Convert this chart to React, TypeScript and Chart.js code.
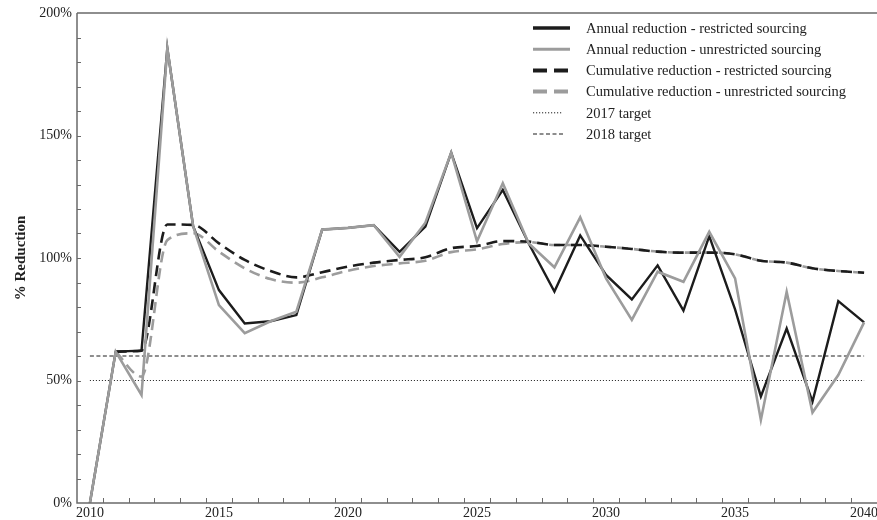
import { useEffect, useRef } from 'react';
import { Chart, registerables } from 'chart.js';

Chart.register(...registerables);

const YEARS = [
  2010, 2011, 2012, 2013, 2014, 2015, 2016, 2017, 2018, 2019,
  2020, 2021, 2022, 2023, 2024, 2025, 2026, 2027, 2028, 2029,
  2030, 2031, 2032, 2033, 2034, 2035, 2036, 2037, 2038, 2039, 2040,
];

const ANNUAL_RESTRICTED = [
  0, 61.8, 62.2, 185.6, 113, 86.9, 73.3, 74.2, 76.7, 111.6,
  112.3, 113.4, 102.5, 112.8, 143, 112.2, 127.8, 106, 86.3, 109.2,
  93.1, 83.1, 97, 78.5, 108.9, 79, 43.5, 71.2, 41.4, 82.4, 73.7,
];

const ANNUAL_UNRESTRICTED = [
  0, 61.8, 44.1, 185.6, 113, 80.8, 69.3, 74.2, 78.1, 111.6,
  112.3, 113.4, 100.5, 114.4, 143, 106.8, 130.5, 106, 96.2, 116.6,
  91.7, 74.7, 94.4, 90.3, 110.7, 91.7, 33.9, 86.2, 36.9, 52.2, 73.7,
];

const CUMULATIVE_RESTRICTED = [
  null, 61.8, 62.2, 113.7, 113.5, 106, 99.2, 94.7, 92.1, 94.2,
  96.5, 98.1, 99.2, 100.3, 104, 104.9, 106.9, 106.7, 105.3, 105.3,
  104.6, 103.7, 102.6, 102.2, 102.2, 101.5, 98.9, 98.1, 95.8, 94.7, 94,
];

const CUMULATIVE_UNRESTRICTED = [
  null, 61.8, 51.6, 107.3, 110.1, 102.6, 95.8, 91.4, 89.9, 92.1,
  94.8, 96.7, 97.8, 98.9, 102.4, 103.5, 105.7, 106.5, 105.3, 105.3,
  104.6, 103.7, 102.6, 102.2, 102.2, 101.5, 98.9, 98.1, 95.8, 94.7, 94,
];

const TARGET_2017 = 50;
const TARGET_2018 = 60;

const Y_MIN = 0;
const Y_MAX = 200;
const Y_MINOR_STEP = 10;
const Y_LABEL_STEP = 50;
const X_LABEL_STEP = 5;

const LEGEND_LABELS = [
  'Annual reduction - restricted sourcing',
  'Annual reduction - unrestricted sourcing',
  'Cumulative reduction - restricted sourcing',
  'Cumulative reduction - unrestricted sourcing',
  '2017 target',
  '2018 target',
];

const BLACK = '#1c1c1c';
const GRAY = '#9c9c9c';
const AXIS = '#6a6a6a';
const TEXT = '#222222';
const SERIF = '"Liberation Serif", "Times New Roman", Times, serif';

const legendDashes: number[][] = [[], [], [14, 7], [14, 7], [1.2, 1.8], [4, 2.5]];
const legendWidths = [3.5, 3, 4, 4, 1, 1.2];
const legendLengths = [37, 37, 37, 37, 30, 30];

const framePlugin = {
  id: 'frame',
  afterDatasetsDraw(chart: any) {
    const { ctx, chartArea, scales } = chart;
    const { left, right, top, bottom } = chartArea;
    const xs = scales.x;
    const ys = scales.y;
    ctx.save();
    ctx.strokeStyle = AXIS;
    ctx.lineWidth = 1.5;
    ctx.setLineDash([]);
    ctx.beginPath();
    ctx.moveTo(left, top);
    ctx.lineTo(right + 2, top);
    ctx.moveTo(left, top);
    ctx.lineTo(left, bottom);
    ctx.lineTo(right + 2, bottom);
    ctx.stroke();

    ctx.lineWidth = 1;
    ctx.beginPath();
    for (let v = Y_MIN + Y_MINOR_STEP; v < Y_MAX; v += Y_MINOR_STEP) {
      const y = Math.round(ys.getPixelForValue(v)) + 0.5;
      ctx.moveTo(left, y);
      ctx.lineTo(left + 4, y);
    }
    const step = xs.getPixelForValue(1) - xs.getPixelForValue(0);
    for (let i = 0; i < YEARS.length - 1; i++) {
      const x = Math.round(xs.getPixelForValue(i) + step / 2) + 0.5;
      ctx.moveTo(x, bottom);
      ctx.lineTo(x, bottom - 5);
    }
    ctx.stroke();
    ctx.restore();
  },
  afterDraw(chart: any) {
    const { ctx } = chart;
    const datasets = chart.data.datasets;
    ctx.save();
    ctx.font = `14.5px ${SERIF}`;
    ctx.fillStyle = TEXT;
    ctx.textBaseline = 'middle';
    ctx.textAlign = 'left';
    const x0 = 533;
    const textX = 586;
    LEGEND_LABELS.forEach((label, i) => {
      const y = 28 + i * 21.2;
      const ds = datasets[i];
      ctx.strokeStyle = ds.borderColor;
      ctx.lineWidth = legendWidths[i];
      ctx.setLineDash(legendDashes[i]);
      ctx.lineCap = 'butt';
      ctx.beginPath();
      ctx.moveTo(x0, y);
      ctx.lineTo(x0 + legendLengths[i], y);
      ctx.stroke();
      ctx.setLineDash([]);
      ctx.fillText(label, textX, y + 1);
    });
    ctx.restore();
  },
};

export default function App() {
  const canvasRef = useRef<HTMLCanvasElement | null>(null);

  useEffect(() => {
    document.body.style.margin = '0';
    const canvas = canvasRef.current;
    if (!canvas) return;

    const chart = new Chart(canvas, {
      type: 'line',
      data: {
        labels: YEARS.map(String),
        datasets: [
          {
            label: LEGEND_LABELS[0],
            data: ANNUAL_RESTRICTED,
            borderColor: BLACK,
            borderWidth: 2.4,
            pointRadius: 0,
            tension: 0,
            order: 1,
          },
          {
            label: LEGEND_LABELS[1],
            data: ANNUAL_UNRESTRICTED,
            borderColor: GRAY,
            borderWidth: 2.6,
            pointRadius: 0,
            tension: 0,
            order: 0,
          },
          {
            label: LEGEND_LABELS[2],
            data: CUMULATIVE_RESTRICTED,
            borderColor: BLACK,
            borderWidth: 2.6,
            borderDash: [11, 6],
            pointRadius: 0,
            cubicInterpolationMode: 'monotone',
            order: 2,
          },
          {
            label: LEGEND_LABELS[3],
            data: CUMULATIVE_UNRESTRICTED,
            borderColor: GRAY,
            borderWidth: 2.6,
            borderDash: [11, 6],
            pointRadius: 0,
            cubicInterpolationMode: 'monotone',
            order: 3,
          },
          {
            label: LEGEND_LABELS[4],
            data: YEARS.map(() => TARGET_2017),
            borderColor: BLACK,
            borderWidth: 1,
            borderDash: [1, 2],
            pointRadius: 0,
            order: 4,
          },
          {
            label: LEGEND_LABELS[5],
            data: YEARS.map(() => TARGET_2018),
            borderColor: BLACK,
            borderWidth: 1,
            borderDash: [4, 2.5],
            pointRadius: 0,
            order: 5,
          },
        ],
      },
      options: {
        animation: false,
        responsive: true,
        maintainAspectRatio: false,
        layout: { padding: { top: 13, right: 0, left: 0, bottom: 0 } },
        plugins: {
          legend: { display: false },
          tooltip: { enabled: false },
        },
        scales: {
          x: {
            type: 'category',
            offset: true,
            grid: { display: false, offset: true, drawTicks: false, tickLength: 0 },
            border: { display: false },
            ticks: {
              autoSkip: false,
              maxRotation: 0,
              minRotation: 0,
              padding: 2,
              color: TEXT,
              font: { family: SERIF, size: 14 },
              callback: (_v: any, index: number) =>
                YEARS[index] % X_LABEL_STEP === 0 ? String(YEARS[index]) : '',
            },
            afterFit: (scale: any) => {
              scale.height = 17;
              scale.paddingLeft = 0;
              scale.paddingRight = 0;
            },
          },
          y: {
            min: Y_MIN,
            max: Y_MAX,
            grid: { display: false, drawTicks: false, tickLength: 0 },
            border: { display: false },
            ticks: {
              stepSize: Y_MINOR_STEP,
              autoSkip: false,
              padding: 5,
              color: TEXT,
              font: { family: SERIF, size: 14 },
              callback: (v: any) => (Number(v) % Y_LABEL_STEP === 0 ? `${v}%` : ''),
            },
            title: {
              display: true,
              text: '% Reduction',
              color: TEXT,
              font: { family: SERIF, size: 15, weight: 'bold' },
              padding: { top: 12, bottom: 0 },
            },
            afterFit: (scale: any) => {
              scale.width = 77;
              scale.paddingTop = 0;
              scale.paddingBottom = 0;
            },
          },
        },
      },
      plugins: [framePlugin],
    } as any);

    return () => chart.destroy();
  }, []);

  return (
    <div style={{ position: 'relative', width: 877, height: 520, background: '#fff' }}>
      <canvas ref={canvasRef} />
    </div>
  );
}
